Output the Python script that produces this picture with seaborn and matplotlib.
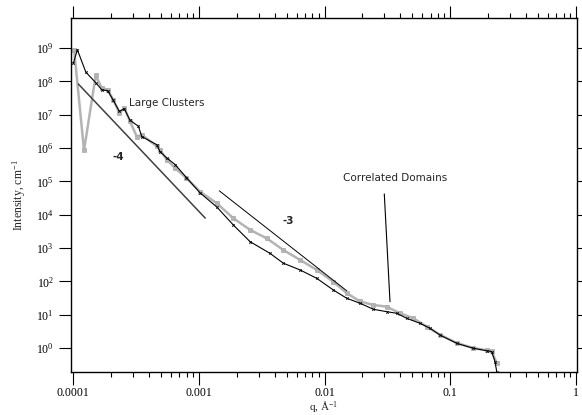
import numpy as np
import matplotlib
matplotlib.use("Agg")
import matplotlib.pyplot as plt
import matplotlib.ticker as mticker
import seaborn as sns
import pandas as pd

# black curve (q in 1/A, intensity in 1/cm)
q_black = [1.00e-4, 1.076e-4, 1.256e-4, 1.517e-4, 1.683e-4, 1.879e-4, 2.080e-4, 2.323e-4,
           2.547e-4, 2.825e-4, 3.296e-4, 3.508e-4, 4.613e-4, 4.898e-4, 5.546e-4, 6.457e-4,
           7.943e-4, 1.021e-3, 1.387e-3, 1.879e-3, 2.553e-3, 3.681e-3, 4.699e-3, 6.383e-3,
           8.670e-3, 1.175e-2, 1.503e-2, 1.919e-2, 2.449e-2, 3.126e-2, 3.758e-2, 4.508e-2,
           5.754e-2, 6.918e-2, 8.299e-2, 0.1130, 0.1531, 0.1954, 0.2143, 0.2275, 0.2350]
I_black = [3.5e8, 8.9e8, 1.9e8, 8.9e7, 5.6e7, 5.2e7, 2.7e7, 1.26e7,
           1.5e7, 6.8e6, 4.5e6, 2.2e6, 1.26e6, 7.8e5, 5.0e5, 3.2e5,
           1.3e5, 4.5e4, 1.7e4, 4.9e3, 1.55e3, 690, 350, 220,
           123, 55, 31, 22, 14.5, 12.3, 11.0, 7.8,
           5.5, 3.9, 2.45, 1.38, 0.98, 0.83, 0.78, 0.39, 0.195]

# grey curve
q_grey = [1.014e-4, 1.216e-4, 1.507e-4, 1.683e-4, 1.879e-4, 2.080e-4, 2.323e-4, 2.547e-4,
          2.825e-4, 3.199e-4, 3.508e-4, 4.613e-4, 4.898e-4, 5.546e-4, 6.457e-4, 7.943e-4,
          1.021e-3, 1.387e-3, 1.879e-3, 2.553e-3, 3.467e-3, 4.699e-3, 6.383e-3, 8.670e-3,
          1.175e-2, 1.503e-2, 1.919e-2, 2.449e-2, 3.126e-2, 3.990e-2, 5.093e-2, 6.516e-2,
          8.299e-2, 0.1130, 0.1531, 0.1954, 0.2143, 0.2350]
I_grey = [8.9e8, 8.5e5, 1.5e8, 6.3e7, 5.6e7, 2.8e7, 1.12e7, 1.6e7,
          6.3e6, 2.2e6, 2.5e6, 1.12e6, 8.9e5, 4.5e5, 2.5e5, 1.26e5,
          4.9e4, 2.2e4, 7.8e3, 3.5e3, 1.95e3, 870, 440, 220,
          98, 44, 25, 19.5, 17.4, 11.0, 7.8, 4.4,
          2.5, 1.41, 1.0, 0.85, 0.79, 0.35]

# guide lines (power laws and pointer)
q_slope4 = [1.096e-4, 1.122e-3]
I_slope4 = [8.3e7, 7.9e3]
q_slope3 = [1.452e-3, 1.503e-2]
I_slope3 = [5.2e4, 52]
q_pointer = [2.99e-2, 3.32e-2]
I_pointer = [4.2e4, 24.5]

x_ticks = [1e-4, 1e-3, 1e-2, 1e-1, 1]
x_ticklabels = ["0.0001", "0.001", "0.01", "0.1", "1"]
y_ticks = [1e0, 1e1, 1e2, 1e3, 1e4, 1e5, 1e6, 1e7, 1e8, 1e9]

black_df = pd.DataFrame({"q": q_black, "I": I_black})
grey_df = pd.DataFrame({"q": q_grey, "I": I_grey})

sns.set_style("ticks")
plt.rcParams["font.family"] = ["Liberation Serif", "DejaVu Sans"]
plt.rcParams["mathtext.fontset"] = "custom"
plt.rcParams["mathtext.rm"] = "Liberation Serif"
plt.rcParams["mathtext.it"] = "Liberation Serif:italic"
plt.rcParams["mathtext.default"] = "regular"

fig = plt.figure(figsize=(5.82, 4.15), dpi=100)
ax = fig.add_axes([0.1215, 0.1036, 0.8699, 0.853])
ax.set_xscale("log")
ax.set_yscale("log")

sns.lineplot(data=grey_df, x="q", y="I", ax=ax, color="#b4b4b4", lw=1.8,
             marker="s", markersize=2.8, markeredgewidth=0.5, markeredgecolor="#a8a8a8",
             estimator=None, sort=False)
sns.lineplot(data=black_df, x="q", y="I", ax=ax, color="black", lw=0.8,
             marker="x", markersize=1.8, markeredgewidth=0.6, markeredgecolor="black",
             estimator=None, sort=False)

ax.plot(q_slope4, I_slope4, color="#404040", lw=1.1)
ax.plot(q_slope3, I_slope3, color="black", lw=0.7)
ax.plot(q_pointer, I_pointer, color="black", lw=0.8)

sans = ["DejaVu Sans"]
ax.text(2.79e-4, 2.2e7, "Large Clusters", family=sans, fontsize=7.5, va="center", ha="left")
ax.text(2.28e-4, 5.5e5, "-4", family=sans, fontsize=7.5, weight="bold", va="center", ha="center")
ax.text(5.15e-3, 6.5e3, "-3", family=sans, fontsize=7.5, weight="bold", va="center", ha="center")
ax.text(3.64e-2, 1.26e5, "Correlated Domains", family=sans, fontsize=7.5, va="center", ha="center")

ax.set_xlim(10 ** -4.021, 10 ** 0.01)
ax.set_ylim(10 ** -0.72, 10 ** 9.9)

ax.set_xticks(x_ticks)
ax.set_xticklabels(x_ticklabels)
ax.xaxis.set_minor_locator(mticker.LogLocator(base=10, subs=np.arange(2, 10), numticks=50))
ax.xaxis.set_minor_formatter(mticker.NullFormatter())
ax.set_yticks(y_ticks)
ax.yaxis.set_minor_locator(mticker.NullLocator())

ax.tick_params(which="both", direction="out", top=True, right=True,
               labeltop=False, labelright=False, colors="black", labelsize=8.5, width=0.8)
ax.tick_params(which="major", length=9, pad=3)
ax.tick_params(axis="x", which="major", pad=2)
ax.tick_params(which="minor", length=3.5)

for s in ax.spines.values():
    s.set_visible(True)
    s.set_color("black")
    s.set_linewidth(1.0)

ax.set_xlabel("q, Å$^{-1}$", fontsize=8, labelpad=0)
ax.set_ylabel("Intensity, cm$^{-1}$", fontsize=8.5, labelpad=6)

fig.savefig("out.png", dpi=100)
